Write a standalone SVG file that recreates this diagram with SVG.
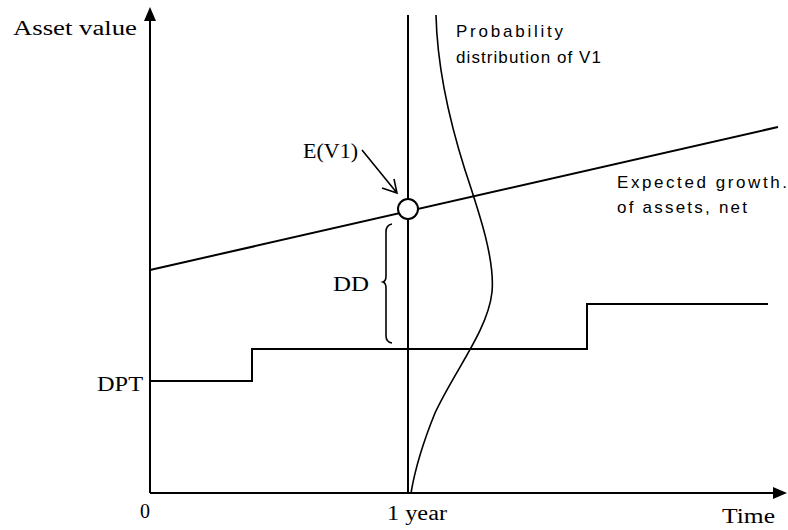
<svg xmlns="http://www.w3.org/2000/svg" width="788" height="530" viewBox="0 0 788 530">
<style>
.ln{fill:none;stroke:#000;stroke-width:2}
.th{fill:none;stroke:#000;stroke-width:1.6}
.sf{font-family:"Liberation Serif","Times New Roman",serif;fill:#000}
.ss{font-family:"Liberation Sans",Arial,sans-serif;fill:#000}
</style>
<rect width="788" height="530" fill="#fff"/>
<g id="connectors">
<line class="ln" x1="150" y1="20" x2="150" y2="493"/>
<polygon points="150,7 144,21 156,21" fill="#000"/>
<line class="ln" x1="150" y1="493" x2="775" y2="493"/>
<polygon points="787,493 773,487 773,499" fill="#000"/>
<line class="ln" x1="408" y1="15" x2="408" y2="493"/>
<line class="ln" x1="150" y1="270" x2="778" y2="127"/>
<path class="ln" d="M150,381 H252 V349 H587 V304 H768"/>
<path class="th" d="M436,15 C437,60 446,110 465,170 C480,215 495,260 492,292 C488,330 455,370 435,413 C422,445 414,475 411,493"/>
<path class="th" d="M392,224 Q386,225 386,232 V276 Q386,281 383,282 Q386,283 386,288 V336 Q386,342 392,343"/>
<path class="th" d="M362,150 L397,193 M382,188 L397,193 L394,179"/>
</g>
<g id="e-v1-point">
<circle cx="408" cy="209" r="10" fill="#fff" stroke="#000" stroke-width="2"/>
</g>
<g id="labels">
<text class="sf" x="13" y="35" font-size="20" textLength="124" lengthAdjust="spacingAndGlyphs">Asset value</text>
<text class="sf" x="303" y="158" font-size="22" textLength="55" lengthAdjust="spacingAndGlyphs">E(V1)</text>
<text class="sf" x="333" y="291" font-size="22" textLength="36" lengthAdjust="spacingAndGlyphs">DD</text>
<text class="sf" x="97" y="391" font-size="22" textLength="46" lengthAdjust="spacingAndGlyphs">DPT</text>
<text class="sf" x="140" y="518" font-size="20">0</text>
<text class="sf" x="387" y="520" font-size="20" textLength="60" lengthAdjust="spacingAndGlyphs">1 year</text>
<text class="sf" x="722" y="523" font-size="20" textLength="53" lengthAdjust="spacingAndGlyphs">Time</text>
<text class="ss" x="456" y="37" font-size="17" textLength="107" lengthAdjust="spacing">Probability</text>
<text class="ss" x="456" y="63" font-size="17" textLength="145" lengthAdjust="spacing">distribution of V1</text>
<text class="ss" x="617" y="188" font-size="17" textLength="170" lengthAdjust="spacing">Expected growth.</text>
<text class="ss" x="617" y="213" font-size="17" textLength="130" lengthAdjust="spacing">of assets, net</text>
</g>
</svg>
